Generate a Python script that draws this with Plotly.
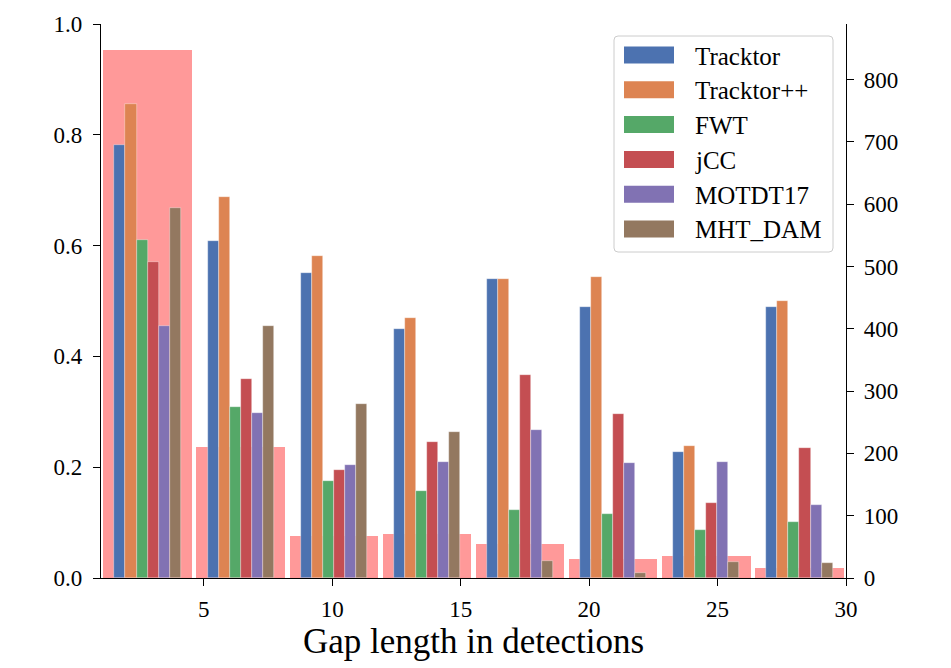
import plotly.graph_objects as go

# ---------------- data ----------------
bin_edges = [1.0, 4.625, 8.25, 11.875, 15.5, 19.125, 22.75, 26.375, 30.0]
gap_counts = [847, 210, 67, 71, 54, 30, 35, 16]

methods = ["Tracktor", "Tracktor++", "FWT", "jCC", "MOTDT17", "MHT_DAM"]
legend_labels = ["Tracktor", "Tracktor++", "FWT", "jCC", "MOTDT17", "MHT_DAM"]
tracktor = [0.781, 0.608, 0.551, 0.450, 0.539, 0.489, 0.228, 0.489]
tracktor_pp = [0.856, 0.687, 0.581, 0.469, 0.539, 0.543, 0.239, 0.500]
fwt = [0.610, 0.308, 0.176, 0.157, 0.123, 0.116, 0.087, 0.101]
jcc = [0.570, 0.359, 0.195, 0.246, 0.367, 0.296, 0.135, 0.235]
motdt17 = [0.455, 0.298, 0.204, 0.210, 0.267, 0.208, 0.210, 0.132]
mht_dam = [0.668, 0.454, 0.314, 0.264, 0.031, 0.009, 0.028, 0.027]
series = [tracktor, tracktor_pp, fwt, jcc, motdt17, mht_dam]
colors = ["#4C72B0", "#DD8452", "#55A868", "#C44E52", "#8172B3", "#937860"]
hist_color = "#ff9999"

left_ticks = [0.0, 0.2, 0.4, 0.6, 0.8, 1.0]
right_ticks = [0, 100, 200, 300, 400, 500, 600, 700, 800]
x_ticks = [5, 10, 15, 20, 25, 30]

# ---------------- derived ----------------
centers = [(a + b) / 2 for a, b in zip(bin_edges[:-1], bin_edges[1:])]
bin_w = bin_edges[1] - bin_edges[0]
hist_w = 0.95 * bin_w
bar_w = hist_w / 8
right_max = max(gap_counts) * 1.05

FONT = "Liberation Serif"

fig = go.Figure()
fig.add_trace(go.Bar(
    x=centers, y=gap_counts, width=hist_w,
    marker=dict(color=hist_color, line=dict(width=0)),
    yaxis="y", showlegend=False, hoverinfo="skip"))

for i, (name, vals, col) in enumerate(zip(methods, series, colors)):
    fig.add_trace(go.Bar(
        x=centers, y=vals, width=bar_w, offset=(i - 3) * bar_w,
        marker=dict(color=col, line=dict(color="rgba(255,255,255,0.6)", width=0.6)),
        name=name, yaxis="y2", showlegend=False))

# plot area in pixels
L, R, T, B = 101, 105, 24, 90
W, H = 951, 668
pw, ph = W - L - R, H - T - B


def px(x):
    return (x - L) / pw


def py(y):
    return (H - B - y) / ph


shapes = []
annotations = []

# legend frame (rounded rectangle)
x0, x1, y0, y1, r = 614, 833, 36, 252, 4
rx, ry = r / pw, r / ph
X0, X1, Y0, Y1 = px(x0), px(x1), py(y1), py(y0)
path = (f"M {X0+rx},{Y0} L {X1-rx},{Y0} Q {X1},{Y0} {X1},{Y0+ry} "
        f"L {X1},{Y1-ry} Q {X1},{Y1} {X1-rx},{Y1} L {X0+rx},{Y1} "
        f"Q {X0},{Y1} {X0},{Y1-ry} L {X0},{Y0+ry} Q {X0},{Y0} {X0+rx},{Y0} Z")
shapes.append(dict(type="path", xref="paper", yref="paper", path=path,
                   fillcolor="rgba(255,255,255,0.85)",
                   line=dict(color="#cccccc", width=1), layer="above"))
for i, (lab, col) in enumerate(zip(legend_labels, colors)):
    cy = 55 + i * 34.8
    shapes.append(dict(type="rect", xref="paper", yref="paper",
                       x0=px(624), x1=px(674), y0=py(cy + 8.5), y1=py(cy - 8.5),
                       fillcolor=col, line=dict(width=0), layer="above"))
    annotations.append(dict(xref="paper", yref="paper", x=px(693), y=py(cy + 1),
                            text=lab, showarrow=False, xanchor="left", yanchor="middle",
                            font=dict(family=FONT, size=25, color="black")))

axis_common = dict(showgrid=False, zeroline=False, showline=True, linecolor="black",
                   linewidth=1.3, ticks="outside", ticklen=7, tickwidth=1.2,
                   tickcolor="black", tickfont=dict(family=FONT, size=23, color="black"))

fig.update_layout(
    width=W, height=H,
    margin=dict(l=L, r=R, t=T, b=B, pad=0),
    paper_bgcolor="white", plot_bgcolor="white",
    barmode="overlay", bargap=0,
    font=dict(family=FONT, color="black"),
    xaxis=dict(range=[bin_edges[0], bin_edges[-1]], tickvals=x_ticks,
               title=dict(text="Gap length in detections",
                          font=dict(family=FONT, size=35, color="black"), standoff=0),
               ticklabelstandoff=3, **axis_common),
    yaxis=dict(range=[0, right_max], tickvals=right_ticks, side="right",
               anchor="x", ticklabelstandoff=5, **axis_common),
    yaxis2=dict(range=[0, 1], tickvals=left_ticks, tickformat=".1f", side="left",
                overlaying="y", anchor="x", ticklabelstandoff=6, **axis_common),
    shapes=shapes, annotations=annotations,
)

fig.write_html("out.html")
